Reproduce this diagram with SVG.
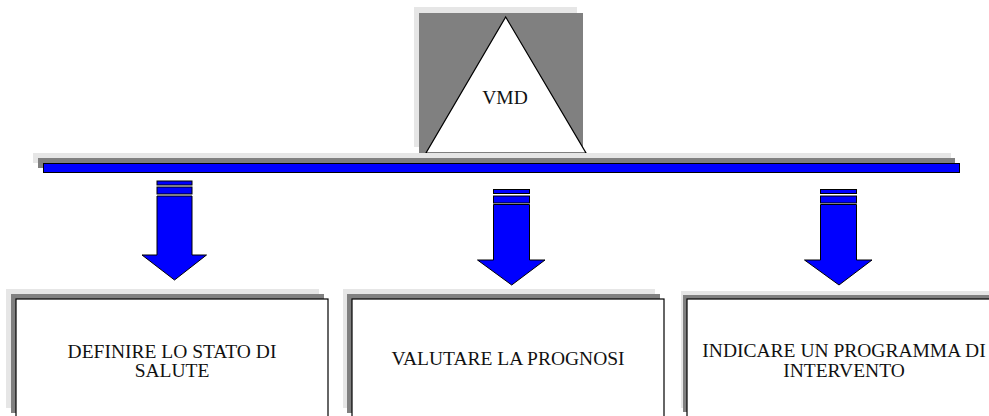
<svg xmlns="http://www.w3.org/2000/svg" width="989" height="416" viewBox="0 0 989 416">
<style>
.lt{fill:#e6e6e6}
.dk{fill:#808080}
.bl{fill:#0000ff;stroke:#000;stroke-width:1}
.box{fill:#fff;stroke:#000;stroke-width:1.2}
.t{font-family:"Liberation Serif","Times New Roman",serif;font-size:19.5px;fill:#111;text-anchor:middle}
</style>
<rect width="989" height="416" fill="#fff"/>
<g id="vmd">
<rect class="lt" x="414" y="7" width="163" height="140"/>
<rect class="dk" x="419" y="13" width="164" height="140"/>
<polygon points="505.7,17 586,153 426,153" fill="#fff" stroke="#000" stroke-width="1.2"/>
<text class="t" x="505" y="104">VMD</text>
</g>
<g id="connectors">
<rect class="lt" x="33" y="153" width="918" height="10"/>
<rect class="dk" x="38" y="158" width="917" height="10"/>
<rect class="bl" x="43.5" y="163.5" width="916" height="9"/>
<g id="arrow1">
<rect class="bl" x="157" y="181" width="35" height="4"/>
<rect class="bl" x="157" y="187" width="35" height="7"/>
<polygon class="bl" points="157,196 192,196 192,255 206.5,255 174.5,280 142,255 157,255"/>
</g>
<g id="arrow2">
<rect class="bl" x="493.5" y="189.5" width="36" height="4"/>
<rect class="bl" x="493.5" y="196" width="36" height="7"/>
<polygon class="bl" points="493.5,204.5 529.5,204.5 529.5,260 545,260 511.7,285 477.5,260 493.5,260"/>
</g>
<g id="arrow3">
<rect class="bl" x="820.5" y="189.5" width="36" height="4"/>
<rect class="bl" x="820.5" y="196" width="36" height="7"/>
<polygon class="bl" points="820.5,204.5 856.5,204.5 856.5,260 872,260 839,285 804.5,260 820.5,260"/>
</g>
</g>
<g id="box1">
<rect class="lt" x="6" y="289" width="313" height="119"/>
<rect class="dk" x="11" y="294" width="313" height="119"/>
<rect class="box" x="16" y="299" width="312" height="125"/>
<text class="t" x="172" y="358">DEFINIRE LO STATO DI</text>
<text class="t" x="172" y="377">SALUTE</text>
</g>
<g id="box2">
<rect class="lt" x="343" y="289" width="312" height="119"/>
<rect class="dk" x="347" y="294" width="313" height="119"/>
<rect class="box" x="352" y="299" width="312" height="125"/>
<text class="t" x="508" y="365">VALUTARE LA PROGNOSI</text>
</g>
<g id="box3">
<rect class="lt" x="681" y="291" width="312" height="117"/>
<rect class="dk" x="683" y="295" width="312" height="117"/>
<rect class="box" x="687" y="299" width="312" height="125"/>
<text class="t" x="844" y="357">INDICARE UN PROGRAMMA DI</text>
<text class="t" x="844" y="377">INTERVENTO</text>
</g>
</svg>
